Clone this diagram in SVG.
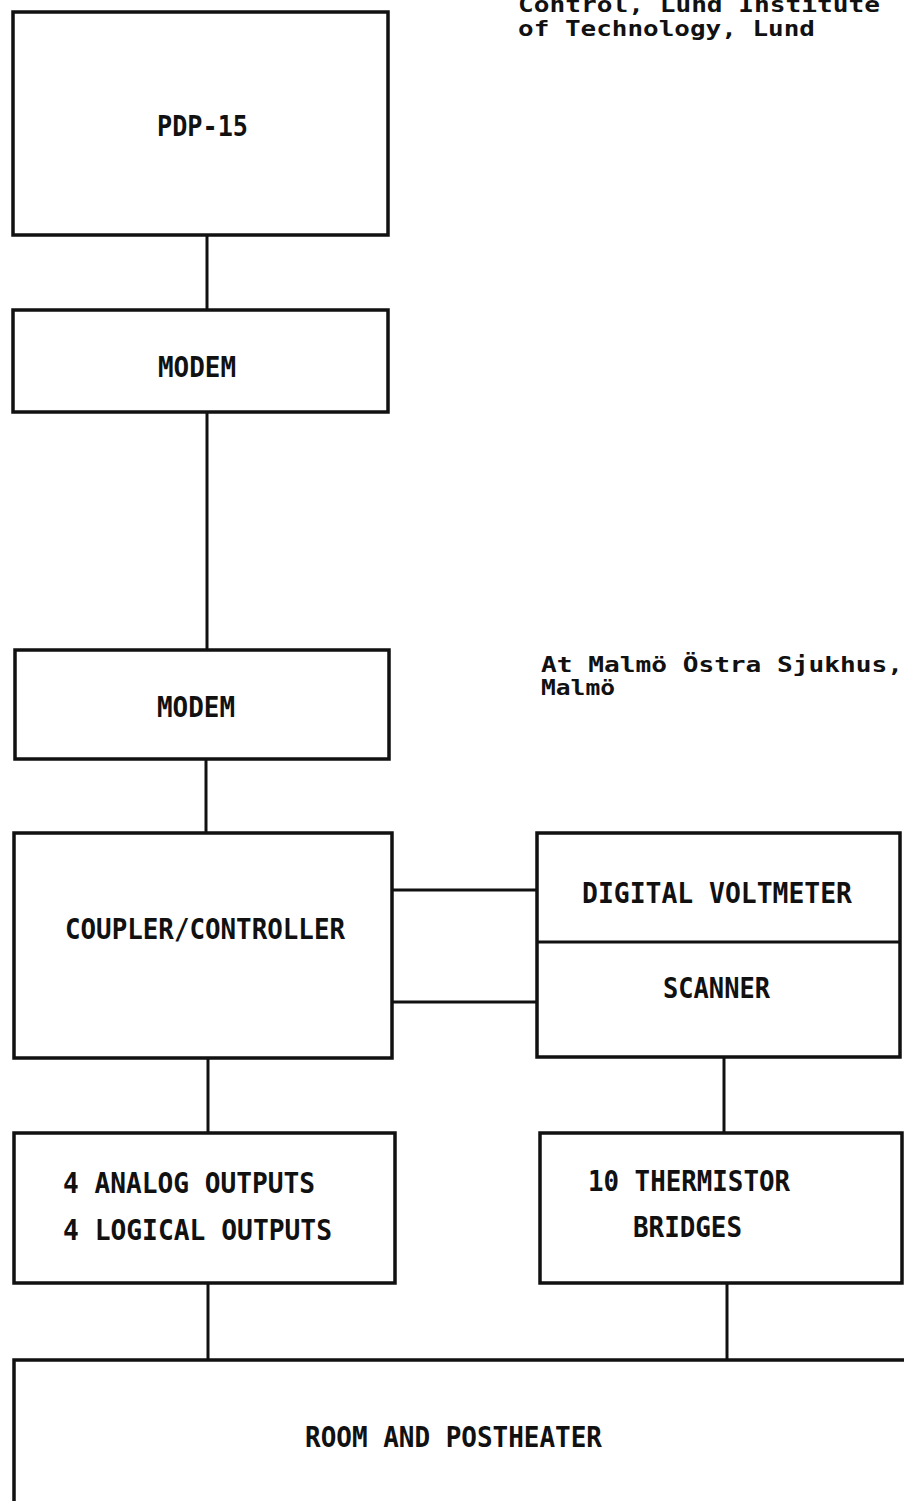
<svg xmlns="http://www.w3.org/2000/svg" width="904" height="1501" viewBox="0 0 904 1501">
<style>
.box{fill:none;stroke:#111;stroke-width:3.5}
.ln{stroke:#111;stroke-width:3;fill:none}
.t{font-family:"DejaVu Sans Mono","Liberation Mono",monospace;font-size:28px;font-weight:bold;fill:#111}
.n{font-family:"DejaVu Sans Mono","Liberation Mono",monospace;font-size:22px;font-weight:bold;fill:#111}
</style>
<rect width="904" height="1501" fill="#fff"/>
<g id="notes">
<text class="n" x="518" y="12" textLength="362" lengthAdjust="spacingAndGlyphs">Control, Lund Institute</text>
<text class="n" x="518" y="36" textLength="297" lengthAdjust="spacingAndGlyphs">of Technology, Lund</text>
<text class="n" x="541" y="672" textLength="362" lengthAdjust="spacingAndGlyphs">At Malmö Östra Sjukhus,</text>
<text class="n" x="541" y="695" textLength="74" lengthAdjust="spacingAndGlyphs">Malmö</text>
</g>
<g id="connectors">
<line class="ln" x1="207" y1="235" x2="207" y2="310"/>
<line class="ln" x1="207" y1="412" x2="207" y2="650"/>
<line class="ln" x1="206" y1="759" x2="206" y2="833"/>
<line class="ln" x1="392" y1="890" x2="537" y2="890"/>
<line class="ln" x1="392" y1="1002" x2="537" y2="1002"/>
<line class="ln" x1="208" y1="1058" x2="208" y2="1133"/>
<line class="ln" x1="724" y1="1057" x2="724" y2="1133"/>
<line class="ln" x1="208" y1="1283" x2="208" y2="1360"/>
<line class="ln" x1="727" y1="1283" x2="727" y2="1360"/>
</g>
<g id="pdp15">
<rect class="box" x="13" y="12" width="375" height="223"/>
<text class="t" x="157" y="136" textLength="91" lengthAdjust="spacingAndGlyphs">PDP-15</text>
</g>
<g id="modem1">
<rect class="box" x="13" y="310" width="375" height="102"/>
<text class="t" x="158" y="377" textLength="78" lengthAdjust="spacingAndGlyphs">MODEM</text>
</g>
<g id="modem2">
<rect class="box" x="15" y="650" width="374" height="109"/>
<text class="t" x="157" y="717" textLength="78" lengthAdjust="spacingAndGlyphs">MODEM</text>
</g>
<g id="coupler">
<rect class="box" x="14" y="833" width="378" height="225"/>
<text class="t" x="65" y="939" textLength="280" lengthAdjust="spacingAndGlyphs">COUPLER/CONTROLLER</text>
</g>
<g id="dvm-scanner">
<rect class="box" x="537" y="833" width="363" height="224"/>
<line class="ln" x1="537" y1="942" x2="900" y2="942"/>
<text class="t" x="582" y="903" textLength="270" lengthAdjust="spacingAndGlyphs">DIGITAL VOLTMETER</text>
<text class="t" x="663" y="998" textLength="107" lengthAdjust="spacingAndGlyphs">SCANNER</text>
</g>
<g id="outputs">
<rect class="box" x="14" y="1133" width="381" height="150"/>
<text class="t" x="63" y="1193" textLength="252" lengthAdjust="spacingAndGlyphs">4 ANALOG OUTPUTS</text>
<text class="t" x="63" y="1240" textLength="269" lengthAdjust="spacingAndGlyphs">4 LOGICAL OUTPUTS</text>
</g>
<g id="thermistors">
<rect class="box" x="540" y="1133" width="362" height="150"/>
<text class="t" x="588" y="1191" textLength="202" lengthAdjust="spacingAndGlyphs">10 THERMISTOR</text>
<text class="t" x="633" y="1237" textLength="109" lengthAdjust="spacingAndGlyphs">BRIDGES</text>
</g>
<g id="room">
<path class="box" d="M14,1501 V1360 H904"/>
<text class="t" x="305" y="1447" textLength="297" lengthAdjust="spacingAndGlyphs">ROOM AND POSTHEATER</text>
</g>
</svg>
